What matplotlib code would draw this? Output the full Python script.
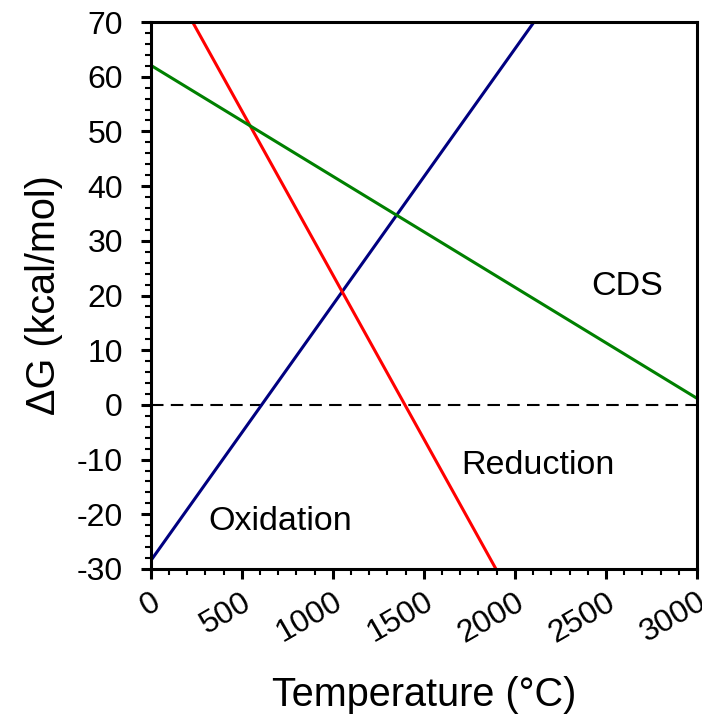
import matplotlib
matplotlib.use('Agg')
import matplotlib.pyplot as plt
from matplotlib.ticker import MultipleLocator

plt.rcParams['font.family'] = ['Liberation Sans', 'DejaVu Sans']
plt.rcParams['axes.unicode_minus'] = False

# endpoints of each line (T in C, dG in kcal/mol)
oxidation_T = [0, 2105]
oxidation_G = [-28.5, 70]
reduction_T = [230, 1896]
reduction_G = [70, -30]
cds_T = [0, 3000]
cds_G = [62.1, 1.2]

labels = ['Oxidation', 'Reduction', 'CDS']
label_T = [710, 2127, 2616]
label_G = [-21.4, -11, 21.6]

fig = plt.figure(figsize=(7.02, 7.15), dpi=100)
ax = fig.add_axes([150.7 / 702, 1 - 569 / 715, 546.3 / 702, 547 / 715])

ax.axhline(0, color='black', lw=1.5, ls=(0, (6, 3.5)))
ax.plot(oxidation_T, oxidation_G, color='#000080', lw=2.2)
ax.plot(reduction_T, reduction_G, color='#ff0000', lw=2.2)
ax.plot(cds_T, cds_G, color='#008000', lw=2.2)

for s, x, y in zip(labels, label_T, label_G):
    ax.text(x, y, s, fontsize=24.5, ha='center', va='center')

ax.set_xlim(0, 3000)
ax.set_ylim(-30, 70)
ax.xaxis.set_major_locator(MultipleLocator(500))
ax.xaxis.set_minor_locator(MultipleLocator(100))
ax.yaxis.set_major_locator(MultipleLocator(10))
ax.yaxis.set_minor_locator(MultipleLocator(2))

for sp in ax.spines.values():
    sp.set_linewidth(2.2)
ax.tick_params(which='major', direction='out', length=7, width=2.2, labelsize=23)
ax.tick_params(which='minor', direction='out', length=4.5, width=1.5)
ax.tick_params(axis='y', pad=13)
ax.tick_params(axis='x', pad=6)
plt.setp(ax.get_xticklabels(), rotation=30, ha='right', rotation_mode='anchor')

ax.set_xlabel('Temperature (°C)', fontsize=28.5, labelpad=20)
ax.set_ylabel('\u0394G (kcal/mol)', fontsize=28.5, labelpad=10)

fig.savefig('out.png', dpi=100)
